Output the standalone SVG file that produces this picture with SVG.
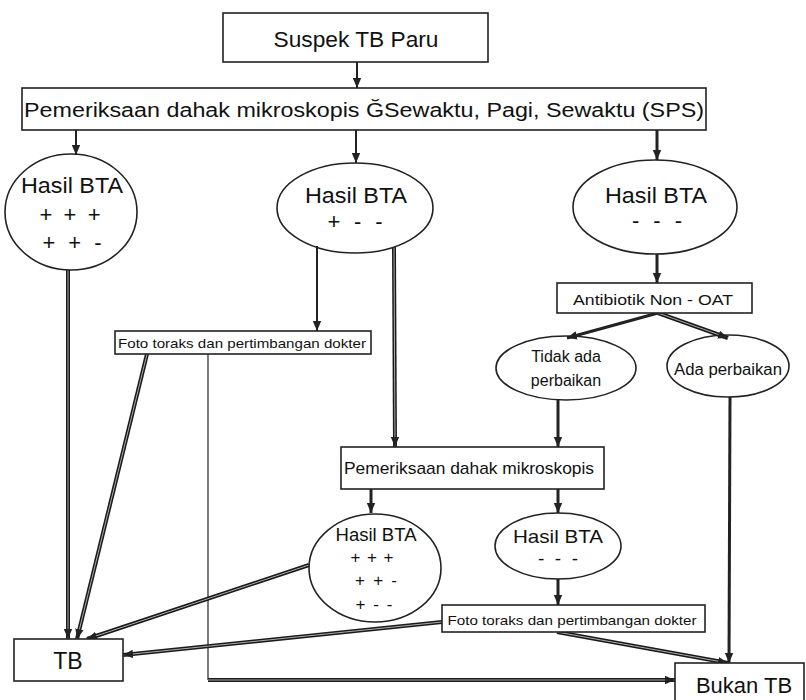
<svg xmlns="http://www.w3.org/2000/svg" width="806" height="700" viewBox="0 0 806 700">
<defs>
<style>
.box{fill:#fff;stroke:#222;stroke-width:1.6}
.ell{fill:none;stroke:#222;stroke-width:1.6}
.t{font-family:"Liberation Sans",Arial,sans-serif;fill:#111;text-anchor:middle}
.s{fill:none;stroke:#222;stroke-width:2;marker-end:url(#ah)}
.s3{fill:none;stroke:#222;stroke-width:3;marker-end:url(#ah)}
.thin{fill:none;stroke:#222;stroke-width:1.2}
.d1{fill:none;stroke:#1a1a1a;stroke-width:4}
.d2{fill:none;stroke:#bbb;stroke-width:0.9}
.a{fill:none;stroke:none;marker-end:url(#ah)}
</style>
<marker id="ah" markerWidth="12" markerHeight="12" refX="10" refY="5" orient="auto" markerUnits="userSpaceOnUse">
<path d="M0,0.8 L10,5 L0,9.2 z" fill="#222"/>
</marker>
</defs>
<rect width="806" height="700" fill="#fff"/>

<g id="connectors">
<path class="s" d="M357,62 L357,88"/>
<path class="s" d="M76,130 L76,155"/>
<path class="s" d="M356,130 L356,163"/>
<path class="s3" d="M657,130 L657,160"/>
<path class="s3" d="M657,254 L657,283"/>
<path class="s3" d="M658,313 L567,338"/>
<path class="d1" d="M658,313 L728,338"/><path class="d2" d="M658,313 L728,338"/><path class="a" d="M658,313 L728,338"/>
<path class="s" d="M317,246 L317,331"/>
<path class="d1" d="M394,247 L395,447"/><path class="d2" d="M394,247 L395,447"/><path class="a" d="M394,247 L395,447"/>
<path class="s3" d="M558,400 L558,447"/>
<path class="s3" d="M730,397 L729,663"/>
<path class="d1" d="M68,270 L68,639"/><path class="d2" d="M68,270 L68,639"/><path class="a" d="M68,270 L68,639"/>
<path class="d1" d="M147,354 L77,639"/><path class="d2" d="M147,354 L77,639"/><path class="a" d="M147,354 L77,639"/>
<path class="thin" d="M208,354 L208,680"/>
<path class="d1" d="M208,680 L675,680"/><path class="d2" d="M208,680 L675,680"/><path class="a" d="M208,680 L675,680"/>
<path class="s3" d="M371,489 L371,513"/>
<path class="s3" d="M558,489 L558,513"/>
<path class="s3" d="M558,579 L558,605"/>
<path class="d1" d="M309,565 L87,639"/><path class="d2" d="M309,565 L87,639"/><path class="a" d="M309,565 L87,639"/>
<path class="d1" d="M442,622 L123,655"/><path class="d2" d="M442,622 L123,655"/><path class="a" d="M442,622 L123,655"/>
<path class="d1" d="M557,632 L728,663"/><path class="d2" d="M557,632 L728,663"/><path class="a" d="M557,632 L728,663"/>
</g>

<g id="suspek">
<rect class="box" x="223" y="13" width="265" height="49"/>
<text class="t" x="356" y="47" font-size="22" textLength="165" lengthAdjust="spacingAndGlyphs">Suspek TB Paru</text>
</g>

<g id="pemeriksaan-sps">
<rect class="box" x="22" y="88" width="684" height="42"/>
<text class="t" x="364" y="117" font-size="20" textLength="680" lengthAdjust="spacingAndGlyphs">Pemeriksaan  dahak  mikroskopis  ĞSewaktu,  Pagi,  Sewaktu  (SPS)</text>
</g>

<g id="hasil-positif">
<ellipse class="ell" cx="71" cy="212" rx="66" ry="58"/>
<text class="t" x="72" y="193" font-size="22" textLength="102" lengthAdjust="spacingAndGlyphs">Hasil  BTA</text>
<text class="t" x="70" y="222" font-size="22" textLength="61" lengthAdjust="spacing">+ + +</text>
<text class="t" x="72" y="250" font-size="22" textLength="59" lengthAdjust="spacing">+ + -</text>
</g>

<g id="hasil-satu-positif">
<ellipse class="ell" cx="355" cy="208" rx="78" ry="45"/>
<text class="t" x="356" y="203" font-size="22" textLength="102" lengthAdjust="spacingAndGlyphs">Hasil  BTA</text>
<text class="t" x="355" y="229" font-size="22" textLength="55" lengthAdjust="spacing">+ - -</text>
</g>

<g id="hasil-negatif">
<ellipse class="ell" cx="655" cy="207" rx="82" ry="47"/>
<text class="t" x="656" y="203" font-size="22" textLength="102" lengthAdjust="spacingAndGlyphs">Hasil  BTA</text>
<text class="t" x="657" y="228" font-size="22" textLength="50" lengthAdjust="spacing">- - -</text>
</g>

<g id="antibiotik">
<rect class="box" x="557" y="283" width="195" height="30"/>
<text class="t" x="653" y="305" font-size="15.5" textLength="160" lengthAdjust="spacingAndGlyphs">Antibiotik  Non - OAT</text>
</g>

<g id="tidak-ada-perbaikan">
<ellipse class="ell" cx="566" cy="368" rx="70" ry="32"/>
<text class="t" x="566" y="362" font-size="16">Tidak ada</text>
<text class="t" x="566" y="386" font-size="16">perbaikan</text>
</g>

<g id="ada-perbaikan">
<ellipse class="ell" cx="728" cy="366" rx="61" ry="31"/>
<text class="t" x="728" y="375" font-size="16" textLength="108" lengthAdjust="spacingAndGlyphs">Ada  perbaikan</text>
</g>

<g id="foto-1">
<rect class="box" x="115" y="331" width="256" height="23"/>
<text class="t" x="242" y="348" font-size="13.5" textLength="248" lengthAdjust="spacingAndGlyphs">Foto  toraks  dan  pertimbangan   dokter</text>
</g>

<g id="pemeriksaan-ulang">
<rect class="box" x="341" y="447" width="263" height="42"/>
<text class="t" x="469" y="474" font-size="17" textLength="250" lengthAdjust="spacingAndGlyphs">Pemeriksaan  dahak  mikroskopis</text>
</g>

<g id="hasil-ulang-positif">
<ellipse class="ell" cx="375" cy="568" rx="66" ry="54"/>
<text class="t" x="376" y="541" font-size="17.5" textLength="81" lengthAdjust="spacingAndGlyphs">Hasil BTA</text>
<text class="t" x="372" y="563" font-size="17" textLength="43" lengthAdjust="spacing">+ + +</text>
<text class="t" x="376" y="586" font-size="17" textLength="42" lengthAdjust="spacing">+ +  -</text>
<text class="t" x="374" y="610" font-size="17" textLength="37" lengthAdjust="spacing">+ - -</text>
</g>

<g id="hasil-ulang-negatif">
<ellipse class="ell" cx="558" cy="546" rx="63" ry="33"/>
<text class="t" x="558" y="543" font-size="19" textLength="90" lengthAdjust="spacingAndGlyphs">Hasil BTA</text>
<text class="t" x="558" y="565" font-size="19" textLength="40" lengthAdjust="spacing">- - -</text>
</g>

<g id="foto-2">
<rect class="box" x="442" y="605" width="263" height="27"/>
<text class="t" x="572" y="625" font-size="13.5" textLength="249" lengthAdjust="spacingAndGlyphs">Foto  toraks  dan  pertimbangan   dokter</text>
</g>

<g id="tb">
<rect class="box" x="14" y="639" width="109" height="42"/>
<text class="t" x="68" y="669" font-size="23">TB</text>
</g>

<g id="bukan-tb">
<rect class="box" x="675" y="663" width="129" height="40"/>
<text class="t" x="744" y="693" font-size="22">Bukan TB</text>
</g>
</svg>
